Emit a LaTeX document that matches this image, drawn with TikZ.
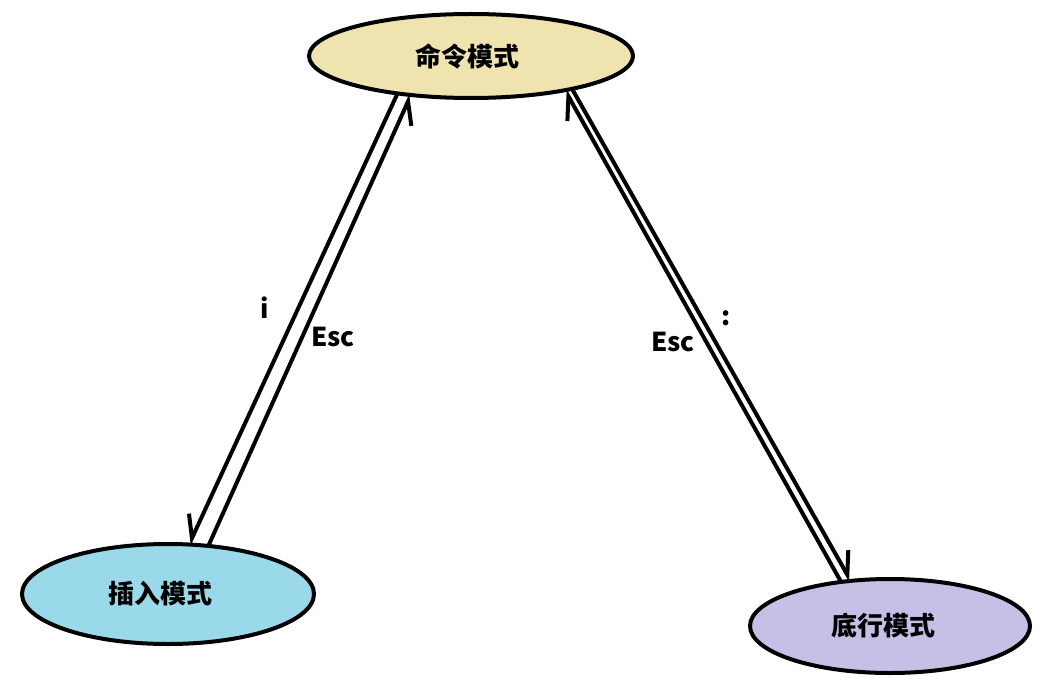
\documentclass[tikz,border=0pt]{standalone}
\usepackage{fontspec}
\setmainfont{Noto Sans CJK SC}
\usetikzlibrary{shapes.geometric,arrows.meta}
\definecolor{cmdfill}{HTML}{EFE4B0}
\definecolor{insfill}{HTML}{99D9EA}
\definecolor{botfill}{HTML}{C8BFE7}
\tikzset{
  mode/.style={ellipse, draw=black, line width=4pt, inner sep=0pt, outer sep=0pt},
  lbl/.style={font=\fontsize{26}{30}\selectfont\bfseries, text=black, inner sep=0pt},
  hr/.style={line width=4pt, -{Straight Barb[harpoon,swap,length=21pt,width=26pt,line width=4pt]}},
  hl/.style={line width=4pt, -{Straight Barb[harpoon,length=21pt,width=26pt,line width=4pt]}}
}
\begin{document}
\begin{tikzpicture}[x=1pt,y=-1pt]
\useasboundingbox (0,0) rectangle (1043,700);
\node[mode, fill=cmdfill, minimum width=324pt, minimum height=84pt,
  label={[lbl, xshift=-4pt]center:命令模式}] (cmd) at (471,56) {};
\node[mode, fill=insfill, minimum width=292pt, minimum height=100pt,
  label={[lbl, xshift=-8pt]center:插入模式}] (ins) at (168,594) {};
\node[mode, fill=botfill, minimum width=280pt, minimum height=94pt,
  label={[lbl, xshift=-7pt]center:底行模式}] (bot) at (890,626) {};
\draw[hr] (cmd.207.5) -- (ins.67.8);
\draw[hr] (ins.50.9) -- (cmd.213.5);
\draw[hl] (bot.138) -- (cmd.340.7);
\draw[hl] (cmd.342.2) -- (bot.131.2);
\node[lbl] (li) at (265,308) {i};
\node[lbl] (lesc1) at (333,337) {Esc};
\node[lbl] (lesc2) at (673,342) {Esc};
\node[lbl] (lcol) at (726,318) {:};
\end{tikzpicture}
\end{document}
